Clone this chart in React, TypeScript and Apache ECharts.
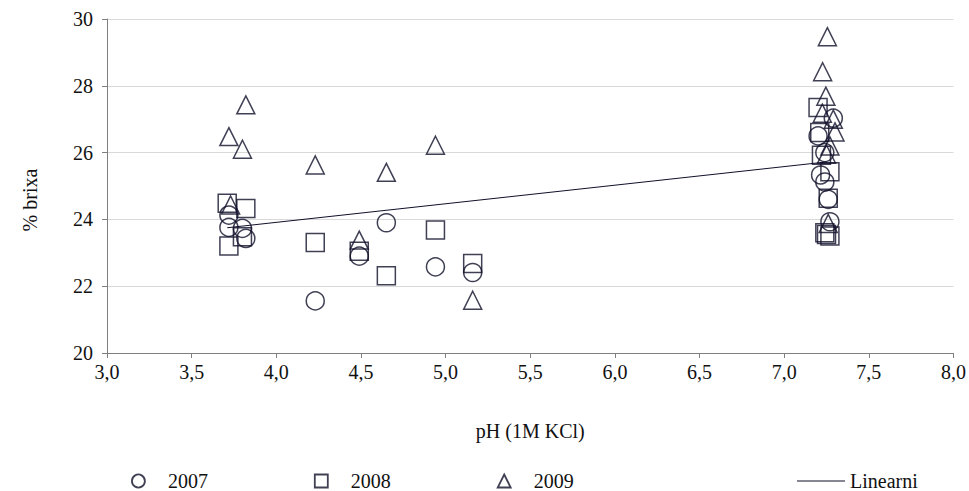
import React, { useEffect, useRef } from "react";
import * as echarts from "echarts";

const seriesNames = ["2007", "2008", "2009"];

const ph2007 = [3.72, 3.72, 3.8, 3.82, 4.23, 4.49, 4.65, 4.94, 5.16, 7.2, 7.29, 7.24, 7.215, 7.24, 7.26, 7.27];
const brix2007 = [24.13, 23.76, 23.73, 23.43, 21.56, 22.9, 23.9, 22.58, 22.41, 26.5, 27.03, 26.0, 25.33, 25.12, 24.6, 23.93];

const ph2008 = [3.71, 3.72, 3.8, 3.82, 4.23, 4.49, 4.65, 4.94, 5.16, 7.2, 7.21, 7.22, 7.27, 7.26, 7.24, 7.27, 7.25];
const brix2008 = [24.48, 23.2, 23.48, 24.33, 23.31, 23.05, 22.31, 23.68, 22.68, 27.35, 26.6, 25.92, 25.43, 24.63, 23.6, 23.5, 23.55];

const ph2009 = [3.72, 3.73, 3.8, 3.82, 4.23, 4.49, 4.65, 4.94, 5.16, 7.255, 7.227, 7.246, 7.225, 7.29, 7.3, 7.27, 7.25, 7.26];
const brix2009 = [26.48, 24.43, 26.1, 27.43, 25.63, 23.38, 25.41, 26.22, 21.58, 29.47, 28.42, 27.69, 27.18, 27.0, 26.62, 26.2, 25.95, 23.88];

const trendName = "Linearni";
const trendPh = [3.71, 7.25];
const trendBrix = [23.75, 25.72];

const xTitle = "pH (1M KCl)";
const yTitle = "% brixa";

const FONT = "'Liberation Serif', 'Times New Roman', serif";
const INK = "#10102a";

function zip(xs: number[], ys: number[]) {
  return xs.map((x, i) => [x, ys[i]]);
}

export default function App() {
  const ref = useRef<HTMLDivElement>(null);
  useEffect(() => {
    if (!ref.current) return;
    const chart = echarts.init(ref.current, null, { renderer: "svg" });
    const markerStyle = { color: "rgba(0,0,0,0)", borderColor: INK, borderWidth: 1.5 };
    const symbols = ["circle", "rect", "triangle"];
    const data = [zip(ph2007, brix2007), zip(ph2008, brix2008), zip(ph2009, brix2009)];
    chart.setOption({
      animation: false,
      textStyle: { fontFamily: FONT },
      grid: { left: 107, right: 10, top: 19, bottom: 138, containLabel: false },
      xAxis: {
        type: "value",
        min: 3,
        max: 8,
        interval: 0.5,
        name: xTitle,
        nameLocation: "middle",
        nameGap: 68,
        nameTextStyle: { fontFamily: FONT, fontSize: 20, color: "#111" },
        axisLine: { show: true, lineStyle: { color: "#7f7f7f", width: 1 } },
        axisTick: { show: true, length: 5, lineStyle: { color: "#7f7f7f" } },
        axisLabel: {
          fontFamily: FONT,
          fontSize: 20,
          color: "#111",
          margin: 9,
          formatter: (v: number) => v.toFixed(1).replace(".", ","),
        },
        splitLine: { show: false },
      },
      yAxis: {
        type: "value",
        min: 20,
        max: 30,
        interval: 2,
        axisLine: { show: true, lineStyle: { color: "#7f7f7f", width: 1 } },
        axisTick: { show: true, length: 5, lineStyle: { color: "#7f7f7f" } },
        axisLabel: { fontFamily: FONT, fontSize: 20, color: "#111", margin: 14 },
        splitLine: { show: true, lineStyle: { color: "#d9d9d9", width: 1 } },
      },
      graphic: [
        {
          type: "text",
          x: 30,
          y: 200,
          rotation: Math.PI / 2,
          style: {
            text: yTitle,
            fontFamily: FONT,
            fontSize: 20,
            fill: "#111",
            textAlign: "center",
            textVerticalAlign: "middle",
            verticalAlign: "middle",
          },
        },
      ],
      legend: [
        {
          data: seriesNames.map((name, i) => ({ name, icon: symbols[i] })),
          left: 126,
          top: 466,
          itemWidth: 13,
          itemHeight: 13,
          itemGap: 106,
          itemStyle: { color: "rgba(0,0,0,0)", borderColor: INK, borderWidth: 1.8 },
          textStyle: {
            fontFamily: FONT,
            fontSize: 20,
            lineHeight: 16,
            color: "#111",
            padding: [0, 0, 0, 18],
          },
        },
        {
          data: [{ name: trendName, icon: "rect" }],
          left: 792,
          top: 466,
          itemWidth: 48,
          itemHeight: 1,
          itemStyle: { color: INK, borderWidth: 0 },
          textStyle: { fontFamily: FONT, fontSize: 20, lineHeight: 16, color: "#111" },
        },
      ],
      series: [
        ...seriesNames.map((name, i) => ({
          name,
          type: "scatter",
          symbol: symbols[i],
          symbolSize: 18,
          itemStyle: markerStyle,
          data: data[i],
          z: 3,
        })),
        {
          name: trendName,
          type: "line",
          symbol: "none",
          showSymbol: false,
          lineStyle: { color: INK, width: 1 },
          itemStyle: { color: INK },
          data: zip(trendPh, trendBrix),
          z: 2,
        },
      ],
    });
    return () => chart.dispose();
  }, []);
  return (
    <div
      ref={ref}
      style={{ position: "fixed", left: 0, top: 0, width: 969, height: 491, background: "#fff" }}
    />
  );
}
